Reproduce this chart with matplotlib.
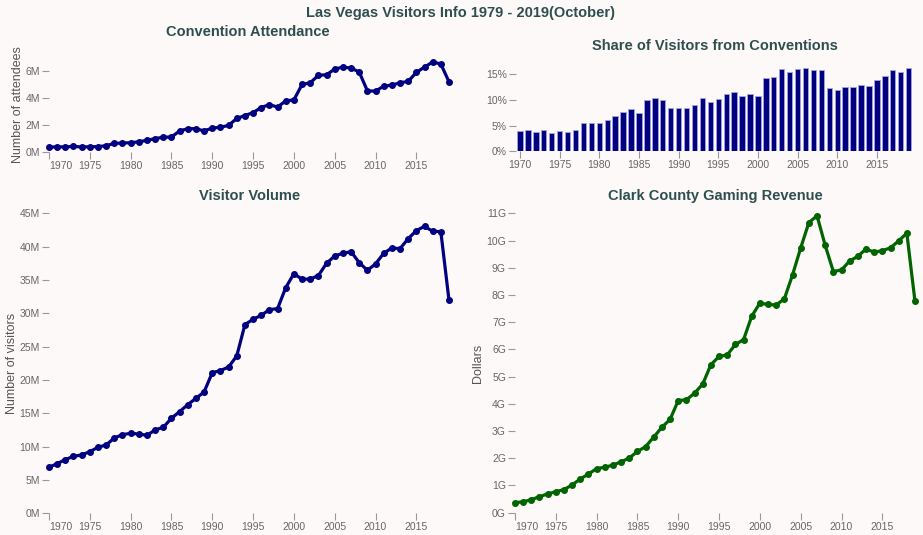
import numpy as np
import matplotlib
matplotlib.use("Agg")
import matplotlib.pyplot as plt

# data, 1970 - 2019
years = list(range(1970, 2020))

convention_m = [0.33, 0.37, 0.35, 0.40, 0.35, 0.37, 0.38, 0.45, 0.62, 0.65,
                0.67, 0.74, 0.85, 0.98, 1.08, 1.10, 1.55, 1.72, 1.72, 1.55,
                1.77, 1.82, 1.97, 2.48, 2.70, 2.92, 3.30, 3.52, 3.33, 3.80,
                3.87, 5.02, 5.15, 5.70, 5.75, 6.17, 6.32, 6.25, 5.95, 4.55,
                4.52, 4.90, 4.97, 5.15, 5.25, 5.92, 6.32, 6.70, 6.55, 5.22]

share_pct = [3.9, 4.2, 3.65, 4.2, 3.6, 3.85, 3.8, 4.1, 5.4, 5.45,
             5.5, 6.1, 6.9, 7.6, 8.15, 7.5, 10.0, 10.3, 9.95, 8.3,
             8.3, 8.45, 9.0, 10.4, 9.5, 10.05, 11.1, 11.55, 10.8, 11.15,
             10.7, 14.2, 14.5, 15.9, 15.3, 16.0, 16.15, 15.85, 15.7, 12.3,
             11.9, 12.5, 12.45, 12.8, 12.6, 13.9, 14.6, 15.8, 15.45, 16.15]

visitors_m = [6.9, 7.45, 8.05, 8.55, 8.75, 9.25, 9.9, 10.25, 11.3, 11.8,
              12.0, 11.9, 11.7, 12.5, 12.9, 14.25, 15.25, 16.3, 17.25, 18.2,
              21.1, 21.4, 21.95, 23.6, 28.3, 29.1, 29.7, 30.55, 30.7, 33.85,
              35.95, 35.1, 35.15, 35.65, 37.5, 38.6, 39.0, 39.25, 37.6, 36.45,
              37.4, 39.0, 39.8, 39.7, 41.2, 42.4, 43.05, 42.3, 42.25, 31.95]

gaming_g = [0.37, 0.40, 0.48, 0.59, 0.69, 0.77, 0.85, 1.02, 1.24, 1.42,
            1.62, 1.67, 1.75, 1.87, 2.01, 2.25, 2.43, 2.78, 3.14, 3.43,
            4.12, 4.15, 4.39, 4.73, 5.44, 5.74, 5.80, 6.18, 6.36, 7.22,
            7.70, 7.65, 7.63, 7.86, 8.74, 9.73, 10.66, 10.91, 9.82, 8.86,
            8.92, 9.25, 9.42, 9.69, 9.57, 9.63, 9.73, 9.99, 10.27, 7.76]

year_ticks = list(range(1970, 2020, 5))

bg = "#fdf9f9"
title_col = "#2f4f4f"
W, H = 923, 535

plt.rcParams["font.family"] = ["Liberation Sans", "DejaVu Sans"]

fig = plt.figure(figsize=(W / 100, H / 100), dpi=100, facecolor=bg)


def box(left, top, right, bottom):
    # pixel box -> figure fraction
    return [left / W, 1 - bottom / H, (right - left) / W, (bottom - top) / H]


def style(ax):
    ax.set_facecolor(bg)
    for s in ax.spines.values():
        s.set_visible(False)
    ax.tick_params(colors="#999999", labelcolor="#666666", labelsize=7.5,
                   length=5, width=0.8, pad=1.5)


def line_panel(rect, y, color, yticks, suffix, first_left=True):
    ax = fig.add_axes(rect)
    style(ax)
    ax.plot(years, y, color=color, lw=2.3, marker="o", ms=4,
            solid_joinstyle="round", clip_on=False)
    ax.set_xlim(1970, 2019)
    ax.set_ylim(0, max(y) if max(y) > yticks[-1] else yticks[-1])
    ax.set_xticks(year_ticks)
    ax.set_xticklabels([str(t) for t in year_ticks])
    if first_left:
        ax.get_xticklabels()[0].set_horizontalalignment("left")
    ax.set_yticks(yticks)
    ax.set_yticklabels([f"{t}{suffix}" for t in yticks])
    return ax


# top left: convention attendance
line_panel(box(49, 62, 449, 151.7), convention_m, "#000080", [0, 2, 4, 6], "M")

# top right: share of visitors from conventions
ax = fig.add_axes(box(516, 68, 912.6, 151.3))
style(ax)
ax.bar(years, share_pct, width=0.68, color="#000080",
       edgecolor="#a5a5dd", linewidth=0.6)
ax.set_xlim(1969.5, 2019.5)
ax.set_ylim(0, max(share_pct))
ax.set_xticks(year_ticks)
ax.set_yticks([0, 5, 10, 15])
ax.set_yticklabels(["0%", "5%", "10%", "15%"])

# bottom left: visitor volume
line_panel(box(49, 213.3, 449, 513.3), visitors_m, "#000080",
           list(range(0, 50, 5)), "M")

# bottom right: gaming revenue
line_panel(box(515, 213.3, 915, 512.7), gaming_g, "#006400",
           list(range(0, 12)), "G")

# titles
fig.text(461 / W, 1 - 13 / H, "Las Vegas Visitors Info 1979 - 2019(October)",
         ha="center", va="center", fontsize=10.5, fontweight="bold", color=title_col)
for x, y, t in [(248, 32, "Convention Attendance"),
                (715, 46, "Share of Visitors from Conventions"),
                (250, 196, "Visitor Volume"),
                (715, 196, "Clark County Gaming Revenue")]:
    fig.text(x / W, 1 - y / H, t, ha="center", va="center",
             fontsize=10.5, fontweight="bold", color=title_col)

# y axis labels
for x, y, t in [(18, 105, "Number of attendees"),
                (12, 363, "Number of visitors"),
                (478, 363, "Dollars")]:
    fig.text(x / W, 1 - y / H, t, ha="center", va="center", rotation=90,
             fontsize=9, color="#555555")

fig.savefig("out.png", dpi=100, facecolor=bg)
